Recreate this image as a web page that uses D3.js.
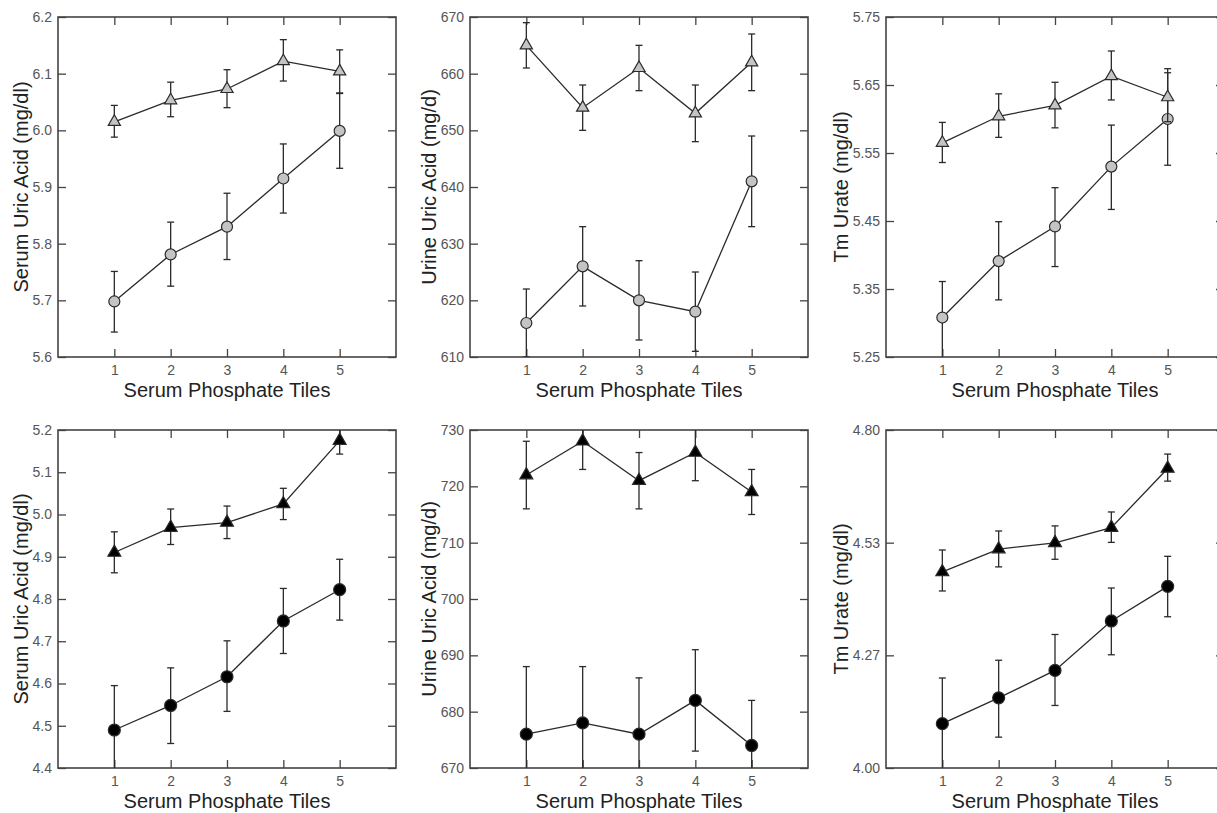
<!DOCTYPE html>
<html>
<head>
<meta charset="utf-8">
<script src="https://cdn.jsdelivr.net/npm/d3@7"></script>
<style>
	body { margin: 0; background: #fff; }
	svg { display: block; font-family: "Liberation Sans", Arial, sans-serif; }
	.tick text { fill: #555; font-size: 14px; }
	.tick line { stroke: #444; stroke-width: 1.3; }
</style>
</head>
<body>
<svg id="chart" width="1217" height="813"></svg>
<script>
// Data (mean, lower and upper end of the error bar).
var tiles = [1, 2, 3, 4, 5];
var xTickLabels = ["1", "2", "3", "4", "5"];
var xTitle = "Serum Phosphate Tiles";

// top left
var p1Tri = [6.015, 6.053, 6.073, 6.122, 6.104];
var p1TriLo = [5.988, 6.024, 6.040, 6.087, 6.066];
var p1TriHi = [6.044, 6.085, 6.107, 6.160, 6.142];
var p1Cir = [5.698, 5.781, 5.830, 5.915, 5.999];
var p1CirLo = [5.644, 5.725, 5.772, 5.854, 5.933];
var p1CirHi = [5.751, 5.838, 5.889, 5.976, 6.065];
var p1Ticks = [5.6, 5.7, 5.8, 5.9, 6.0, 6.1, 6.2];
var p1TickLabels = ["5.6", "5.7", "5.8", "5.9", "6.0", "6.1", "6.2"];

// top middle
var p2Tri = [665, 654, 661, 653, 662];
var p2TriLo = [661, 650, 657, 648, 657];
var p2TriHi = [669, 658, 665, 658, 667];
var p2Cir = [616, 626, 620, 618, 641];
var p2CirLo = [610, 619, 613, 611, 633];
var p2CirHi = [622, 633, 627, 625, 649];
var p2Ticks = [610, 620, 630, 640, 650, 660, 670];
var p2TickLabels = ["610", "620", "630", "640", "650", "660", "670"];

// top right
var p3Tri = [5.565, 5.604, 5.620, 5.663, 5.632];
var p3TriLo = [5.536, 5.573, 5.587, 5.628, 5.596];
var p3TriHi = [5.595, 5.637, 5.654, 5.700, 5.674];
var p3Cir = [5.308, 5.391, 5.442, 5.530, 5.600];
var p3CirLo = [5.248, 5.334, 5.383, 5.467, 5.532];
var p3CirHi = [5.361, 5.449, 5.499, 5.591, 5.668];
var p3Ticks = [5.25, 5.35, 5.45, 5.55, 5.65, 5.75];
var p3TickLabels = ["5.25", "5.35", "5.45", "5.55", "5.65", "5.75"];

// bottom left
var p4Tri = [4.910, 4.969, 4.981, 5.025, 5.175];
var p4TriLo = [4.862, 4.929, 4.943, 4.988, 5.143];
var p4TriHi = [4.959, 5.013, 5.020, 5.062, 5.205];
var p4Cir = [4.490, 4.548, 4.616, 4.748, 4.822];
var p4CirLo = [4.385, 4.458, 4.534, 4.671, 4.750];
var p4CirHi = [4.595, 4.637, 4.701, 4.825, 4.894];
var p4Ticks = [4.4, 4.5, 4.6, 4.7, 4.8, 4.9, 5.0, 5.1, 5.2];
var p4TickLabels = ["4.4", "4.5", "4.6", "4.7", "4.8", "4.9", "5.0", "5.1", "5.2"];

// bottom middle
var p5Tri = [722, 728, 721, 726, 719];
var p5TriLo = [716, 723, 716, 721, 715];
var p5TriHi = [728, 733, 726, 731, 723];
var p5Cir = [676, 678, 676, 682, 674];
var p5CirLo = [664, 668, 666, 673, 666];
var p5CirHi = [688, 688, 686, 691, 682];
var p5Ticks = [670, 680, 690, 700, 710, 720, 730];
var p5TickLabels = ["670", "680", "690", "700", "710", "720", "730"];

// bottom right
var p6Tri = [4.464, 4.518, 4.533, 4.569, 4.709];
var p6TriLo = [4.419, 4.476, 4.494, 4.534, 4.679];
var p6TriHi = [4.516, 4.561, 4.573, 4.606, 4.743];
var p6Cir = [4.105, 4.166, 4.231, 4.348, 4.430];
var p6CirLo = [3.997, 4.073, 4.148, 4.268, 4.358];
var p6CirHi = [4.213, 4.255, 4.316, 4.426, 4.501];
var p6Ticks = [4.0, 4.8 / 3 + 4.0 * 2 / 3, 4.8 * 2 / 3 + 4.0 / 3, 4.8];
var p6TickLabels = ["4.00", "4.27", "4.53", "4.80"];

var panels = [
	{ tri: [p1Tri, p1TriLo, p1TriHi], cir: [p1Cir, p1CirLo, p1CirHi], ticks: p1Ticks, labels: p1TickLabels,
	  title: "Serum Uric Acid (mg/dl)", col: 0, row: 0, filled: false },
	{ tri: [p2Tri, p2TriLo, p2TriHi], cir: [p2Cir, p2CirLo, p2CirHi], ticks: p2Ticks, labels: p2TickLabels,
	  title: "Urine Uric Acid (mg/d)", col: 1, row: 0, filled: false },
	{ tri: [p3Tri, p3TriLo, p3TriHi], cir: [p3Cir, p3CirLo, p3CirHi], ticks: p3Ticks, labels: p3TickLabels,
	  title: "Tm Urate (mg/dl)", col: 2, row: 0, filled: false },
	{ tri: [p4Tri, p4TriLo, p4TriHi], cir: [p4Cir, p4CirLo, p4CirHi], ticks: p4Ticks, labels: p4TickLabels,
	  title: "Serum Uric Acid (mg/dl)", col: 0, row: 1, filled: true },
	{ tri: [p5Tri, p5TriLo, p5TriHi], cir: [p5Cir, p5CirLo, p5CirHi], ticks: p5Ticks, labels: p5TickLabels,
	  title: "Urine Uric Acid (mg/d)", col: 1, row: 1, filled: true },
	{ tri: [p6Tri, p6TriLo, p6TriHi], cir: [p6Cir, p6CirLo, p6CirHi], ticks: p6Ticks, labels: p6TickLabels,
	  title: "Tm Urate (mg/dl)", col: 2, row: 1, filled: true }
];

// layout (pixels)
var colLeft = [58, 470, 886];
var titleOffset = [30, 34, 38]; // distance from frame to the y title baseline
var rowTop = [17, 430];
var rowHeight = [340, 338];
var plotWidth = 338;
var tickLen = 8;
var ink = "#2a2a2a";

var svg = d3.select("#chart");

panels.forEach(function(p, i) {
	var left = colLeft[p.col], top = rowTop[p.row], h = rowHeight[p.row];
	var yDomain = [p.ticks[0], p.ticks[p.ticks.length - 1]];

	var xScale = d3.scaleLinear().domain([0, 6]).range([0, plotWidth]);
	var yScale = d3.scaleLinear().domain(yDomain).range([h, 0]);

	var g = svg.append("g").attr("transform", "translate(" + left + "," + top + ")");

	svg.append("clipPath").attr("id", "clip" + i)
		.append("rect").attr("width", plotWidth).attr("height", h);

	// axes, ticks pointing inside on all four sides
	var fmt = function(d, k) { return p.labels[k]; };
	g.append("g")
		.call(d3.axisLeft(yScale).tickValues(p.ticks).tickFormat(fmt).tickSize(-tickLen).tickPadding(6));
	g.append("g").attr("transform", "translate(" + plotWidth + ",0)")
		.call(d3.axisRight(yScale).tickValues(p.ticks).tickFormat("").tickSize(-tickLen));
	g.append("g").attr("transform", "translate(0," + h + ")")
		.call(d3.axisBottom(xScale).tickValues(tiles).tickFormat(function(d, k) { return xTickLabels[k]; })
			.tickSize(-tickLen).tickPadding(8));
	g.append("g")
		.call(d3.axisTop(xScale).tickValues(tiles).tickFormat("").tickSize(-tickLen));
	g.selectAll(".domain").remove();

	g.append("rect")
		.attr("width", plotWidth).attr("height", h)
		.attr("fill", "none").attr("stroke", "#444").attr("stroke-width", 1.6);

	// titles
	g.append("text")
		.attr("x", plotWidth / 2).attr("y", h + 40)
		.attr("text-anchor", "middle").attr("font-size", 20).attr("fill", "#222")
		.text(xTitle);
	g.append("text")
		.attr("transform", "translate(" + (-titleOffset[p.col]) + "," + (h / 2) + ") rotate(-90)")
		.attr("text-anchor", "middle").attr("font-size", 20).attr("fill", "#222")
		.text(p.title);

	var plot = g.append("g").attr("clip-path", "url(#clip" + i + ")");
	var line = d3.line().x(function(d, k) { return xScale(tiles[k]); }).y(function(d) { return yScale(d); });

	[p.cir, p.tri].forEach(function(s, si) {
		var mean = s[0], lo = s[1], hi = s[2];
		// error bars
		tiles.forEach(function(t, k) {
			var x = xScale(t);
			plot.append("line").attr("x1", x).attr("x2", x)
				.attr("y1", yScale(lo[k])).attr("y2", yScale(hi[k]))
				.attr("stroke", ink).attr("stroke-width", 1.3);
			[lo[k], hi[k]].forEach(function(v) {
				plot.append("line").attr("x1", x - 3.5).attr("x2", x + 3.5)
					.attr("y1", yScale(v)).attr("y2", yScale(v))
					.attr("stroke", ink).attr("stroke-width", 1.3);
			});
		});
		plot.append("path").datum(mean).attr("d", line)
			.attr("fill", "none").attr("stroke", ink).attr("stroke-width", 1.3);
		// markers
		var fill = p.filled ? "#000" : "#c4c4c4";
		if (si === 0) {
			plot.selectAll(null).data(mean).enter().append("circle")
				.attr("cx", function(d, k) { return xScale(tiles[k]); })
				.attr("cy", function(d) { return yScale(d); })
				.attr("r", p.filled ? 6 : 5.5)
				.attr("fill", fill).attr("stroke", ink).attr("stroke-width", 1.2);
		} else {
			plot.selectAll(null).data(mean).enter().append("path")
				.attr("d", d3.symbol().type(d3.symbolTriangle).size(p.filled ? 72 : 64))
				.attr("transform", function(d, k) { return "translate(" + xScale(tiles[k]) + "," + yScale(d) + ")"; })
				.attr("fill", fill).attr("stroke", ink).attr("stroke-width", 1.2);
		}
	});
});
</script>
</body>
</html>
